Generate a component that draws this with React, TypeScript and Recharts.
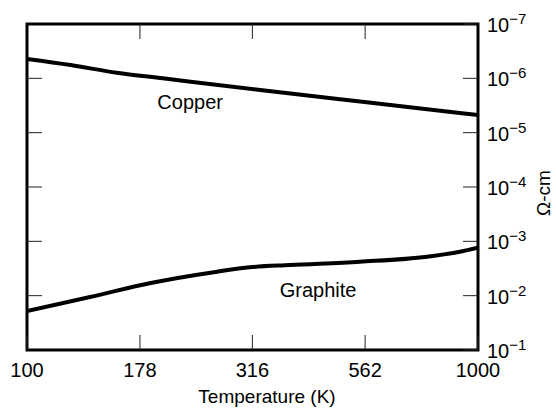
import React from 'react';
import { ComposedChart, Line, XAxis, YAxis, ReferenceArea, ReferenceDot } from 'recharts';

const xTicks = [100, 178, 316, 562, 1000];
const yExponents = [-7, -6, -5, -4, -3, -2, -1];
const yTicks = yExponents.map((e) => Math.pow(10, e));

const copperT = [100, 125, 158, 200, 329, 560, 1000];
const copperR = [4.4e-7, 5.7e-7, 7.9e-7, 1.0e-6, 1.64e-6, 2.73e-6, 4.73e-6];

const graphiteT = [100, 138, 187, 264, 312, 383, 547, 771, 912, 1000];
const graphiteR = [0.0192, 0.0106, 5.9e-3, 3.62e-3, 3.0e-3, 2.73e-3, 2.37e-3, 1.92e-3, 1.55e-3, 1.31e-3];

const labelNames = ['Copper', 'Graphite'];
const labelT = [230, 442];
const labelR = [2.73e-6, 7.87e-3];

const copperData = copperT.map((t, i) => ({ t, r: copperR[i] }));
const graphiteData = graphiteT.map((t, i) => ({ t, r: graphiteR[i] }));

const FONT = '"Liberation Sans", Arial, Helvetica, sans-serif';
const W = 556;
const H = 409;
const M = { top: 24, right: 0, bottom: 0, left: 27 };
const Y_AXIS_W = 78;
const X_AXIS_H = 59;
const PLOT_W = W - M.left - M.right - Y_AXIS_W;
const PLOT_H = H - M.top - M.bottom - X_AXIS_H;
const TICK_LEN = 15;
const tickStroke = { stroke: '#222', strokeWidth: 1 };

const XTick = (props: any) => {
  const { x, y, payload } = props;
  return (
    <text x={x} y={y + 27} textAnchor="middle" fontFamily={FONT} fontSize={20} fill="#000">
      {String(payload.value)}
    </text>
  );
};

const YTick = (props: any) => {
  const { x, y, payload } = props;
  const e = Math.round(Math.log10(payload.value));
  return (
    <text x={x + 9} y={y + 8} textAnchor="start" fontFamily={FONT} fontSize={20} fill="#000">
      10
      <tspan dy={-8} fontSize={15}>{'\u2212' + String(Math.abs(e))}</tspan>
    </text>
  );
};

const XLabel = (props: any) => {
  const { viewBox } = props;
  return (
    <text x={267} y={viewBox.y + 53} textAnchor="middle" fontFamily={FONT} fontSize={19} fill="#000">
      Temperature (K)
    </text>
  );
};

const YLabel = (props: any) => {
  const { viewBox } = props;
  const cx = viewBox.x + 65;
  const cy = 193;
  return (
    <text x={cx} y={cy} textAnchor="middle" dominantBaseline="central" transform={`rotate(-90 ${cx} ${cy})`} fontFamily={FONT} fontSize={19} fill="#000">
      Ω-cm
    </text>
  );
};

// Inward tick marks along the top and left frame edges (mirror of the axis ticks),
// positioned on the same log mapping as the chart's axes.
const xLo = Math.log10(xTicks[0]);
const xHi = Math.log10(xTicks[xTicks.length - 1]);
const yLo = Math.log10(yTicks[0]);
const yHi = Math.log10(yTicks[yTicks.length - 1]);
const toPx = (t: number) => M.left + (PLOT_W * (Math.log10(t) - xLo)) / (xHi - xLo);
const toPy = (v: number) => M.top + (PLOT_H * (Math.log10(v) - yLo)) / (yHi - yLo);

const FrameTicks = () => (
  <svg width={W} height={H} style={{ position: 'absolute', left: 0, top: 0, pointerEvents: 'none' }}>
    {xTicks.slice(1, -1).map((t) => (
      <line key={'t' + t} x1={toPx(t)} x2={toPx(t)} y1={M.top} y2={M.top + TICK_LEN} stroke="#222" strokeWidth={1} />
    ))}
    {yTicks.slice(1, -1).map((v) => (
      <line key={'l' + v} x1={M.left} x2={M.left + TICK_LEN} y1={toPy(v)} y2={toPy(v)} stroke="#222" strokeWidth={1} />
    ))}
  </svg>
);

export default function App() {
  return (
    <div style={{ position: 'absolute', left: 0, top: 0, width: W, height: H, background: '#fff' }}>
      <ComposedChart width={W} height={H} margin={M}>
        <ReferenceArea
          x1={xTicks[0]}
          x2={xTicks[xTicks.length - 1]}
          y1={yTicks[0]}
          y2={yTicks[yTicks.length - 1]}
          fill="none"
          fillOpacity={0}
          stroke="#000"
          strokeWidth={3}
          ifOverflow="visible"
        />
        <XAxis
          dataKey="t"
          type="number"
          scale="log"
          domain={[100, 1000]}
          ticks={xTicks}
          interval={0}
          allowDataOverflow
          height={X_AXIS_H}
          axisLine={false}
          tickLine={tickStroke}
          tickSize={-TICK_LEN}
          tickMargin={TICK_LEN}
          tick={<XTick />}
          label={<XLabel />}
        />
        <YAxis
          orientation="right"
          type="number"
          scale="log"
          domain={[1e-7, 1e-1]}
          ticks={yTicks}
          interval={0}
          reversed
          allowDataOverflow
          width={Y_AXIS_W}
          axisLine={false}
          tickLine={tickStroke}
          tickSize={-TICK_LEN}
          tickMargin={TICK_LEN}
          tick={<YTick />}
          label={<YLabel />}
        />
        <Line
          data={copperData}
          dataKey="r"
          type="monotone"
          stroke="#000"
          strokeWidth={4}
          dot={false}
          isAnimationActive={false}
        />
        <Line
          data={graphiteData}
          dataKey="r"
          type="monotone"
          stroke="#000"
          strokeWidth={4}
          dot={false}
          isAnimationActive={false}
        />
        {labelNames.map((name, i) => (
          <ReferenceDot
            key={name}
            x={labelT[i]}
            y={labelR[i]}
            r={0}
            fill="none"
            stroke="none"
            ifOverflow="visible"
            label={{ value: name, position: 'center', fontSize: 20, fill: '#000', fontFamily: FONT }}
          />
        ))}
      </ComposedChart>
      <FrameTicks />
    </div>
  );
}
